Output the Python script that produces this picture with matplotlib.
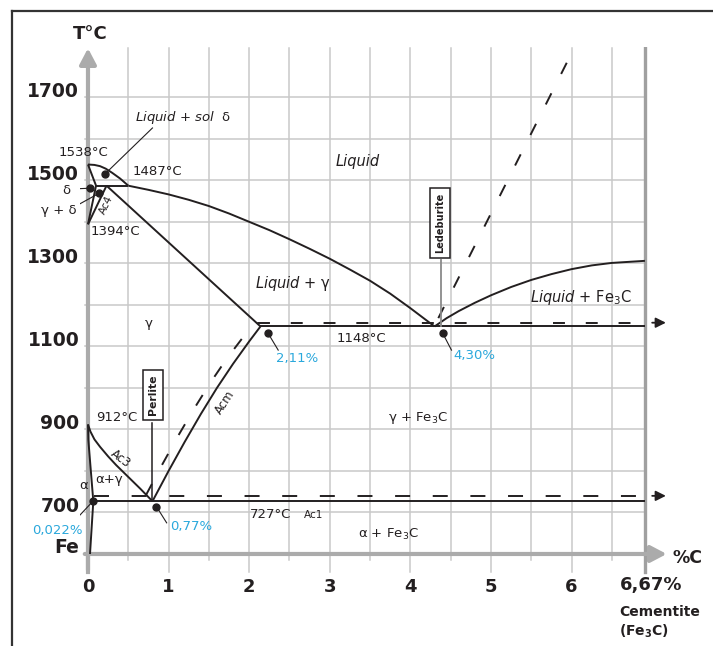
import matplotlib
matplotlib.use('Agg')
import matplotlib.pyplot as plt
from matplotlib.lines import Line2D

plt.rcParams['font.family'] = ['DejaVu Sans']
plt.rcParams['mathtext.fontset'] = 'dejavusans'
plt.rcParams['lines.scale_dashes'] = False

# ---- diagram data: % carbon vs temperature (°C) ----
X_CEM = 6.91   # where the 6.67 % C (Fe3C) line sits; the axis is not to scale past 6.5
T_PERI, T_EUT, T_EUTD = 1487, 1148, 727

delta_liq_c = [0.0, 0.08, 0.15, 0.22, 0.30, 0.40, 0.50]
delta_liq_t = [1538, 1537, 1534, 1528, 1518, 1504, 1487]
delta_sol_c = [0.0, 0.10, 0.0]
delta_sol_t = [1538, 1487, 1394]
gamma_delta_c = [0.23, 0.0]
gamma_delta_t = [1487, 1394]
peri_c = [0.10, 0.50]

liquidus_c = [0.50, 0.75, 1.0, 1.25, 1.5, 1.75, 2.0, 2.25, 2.5, 2.75,
              3.0, 3.25, 3.5, 3.75, 4.0, 4.30]
liquidus_t = [1487, 1477, 1466, 1453, 1438, 1420, 1400, 1380, 1358, 1335,
              1311, 1285, 1258, 1227, 1192, 1148]
solidus_c = [0.23, 2.14]
solidus_t = [1487, 1148]
cem_liq_c = [4.30, 4.45, 4.6, 4.8, 5.0, 5.25, 5.5, 5.75, 6.0, 6.25, 6.5, X_CEM]
cem_liq_t = [1148, 1168, 1185, 1205, 1223, 1243, 1260, 1274, 1286, 1295, 1301, 1306]
cem_dash_c = [5.94, 4.30]
cem_dash_t = [1783, 1150]

acm_c = [0.80, 1.0, 1.2, 1.4, 1.6, 1.8, 2.0, 2.14]
acm_t = [727, 800, 870, 937, 1000, 1058, 1112, 1148]
acm_dash_c = [0.72, 0.92, 1.12, 1.32, 1.52, 1.72, 1.92, 2.11]
acm_dash_t = [742, 815, 885, 951, 1013, 1070, 1121, 1157]
ac3_c = [0.0, 0.03, 0.08, 0.15, 0.25, 0.35, 0.45, 0.55, 0.65, 0.80]
ac3_t = [912, 895, 876, 858, 835, 814, 795, 776, 757, 727]
alpha_c = [0.0, 0.004, 0.066, 0.025]
alpha_t = [912, 875, 727, 600]

eut_c = [2.14, X_CEM]
eutd_c = [0.066, X_CEM]
eut_dash_c, eut_dash_t = [2.11, X_CEM], 1157
eutd_dash_c, eutd_dash_t = [0.08, X_CEM], 740

dot_c = [0.21, 0.03, 0.14, 2.23, 4.40, 0.066, 0.85]
dot_t = [1515, 1481, 1469, 1133, 1132, 728, 714]

x_ticks = [0, 1, 2, 3, 4, 5, 6]
y_ticks = [1700, 1500, 1300, 1100, 900, 700, 600]
y_tick_labels = ['1700', '1500', '1300', '1100', '900', '700', 'Fe']
grid_c = [0.5 * i for i in range(1, 14)]
grid_t = list(range(700, 1800, 100))

INK = '#231f20'
GRID = '#c9c9c9'
AXIS = '#ababab'
CYAN = '#2aa8dc'

fig = plt.figure(figsize=(7.13, 6.46), dpi=100)
ax = fig.add_axes([0.1121, 0.1103, 0.8365, 0.8163])
ax.set_xlim(-0.1, 7.3)
ax.set_ylim(550, 1820)
ax.axis('off')

# outer frame (only top and left edges are inside the picture)
fig.add_artist(Line2D([11.7 / 713, 1.0], [1 - 11 / 646] * 2, color='#333333', lw=1.6))
fig.add_artist(Line2D([11.7 / 713] * 2, [0.0, 1 - 11 / 646], color='#333333', lw=1.6))

# grid
for c in grid_c:
    bottom = 557 if c == int(c) else 586
    ax.plot([c, c], [bottom, 1818], color=GRID, lw=1.1, zorder=0)
for t in grid_t:
    ax.plot([-0.04, X_CEM], [t, t], color=GRID, lw=1.1, zorder=0)
ax.plot([X_CEM, X_CEM], [557, 1818], color='#a0a0a0', lw=2.4, zorder=1)

# axes with arrow heads
head = '-|>,head_length=0.95,head_width=0.5'
ax.annotate('', xy=(0, 1818), xytext=(0, 561),
            arrowprops=dict(arrowstyle=head, color=AXIS, lw=3, mutation_scale=10,
                            shrinkA=0, shrinkB=0), zorder=1)
ax.annotate('', xy=(7.18, 600), xytext=(-0.04, 600),
            arrowprops=dict(arrowstyle=head, color=AXIS, lw=3, mutation_scale=10,
                            shrinkA=0, shrinkB=0), zorder=1)
ax.plot([0, 0], [557, 600], color=AXIS, lw=3, zorder=1)

# phase boundaries
lw = 1.4
for cs, ts in [(delta_liq_c, delta_liq_t), (delta_sol_c, delta_sol_t),
               (gamma_delta_c, gamma_delta_t), (peri_c, [T_PERI, T_PERI]),
               (liquidus_c, liquidus_t), (solidus_c, solidus_t),
               (cem_liq_c, cem_liq_t), (acm_c, acm_t), (ac3_c, ac3_t),
               (alpha_c, alpha_t), (eut_c, [T_EUT, T_EUT]),
               (eutd_c, [T_EUTD, T_EUTD])]:
    ax.plot(cs, ts, color=INK, lw=lw, zorder=3, solid_capstyle='butt',
            solid_joinstyle='round')

ax.plot(cem_dash_c, cem_dash_t, color=INK, lw=lw, dashes=(9, 15.6), zorder=3)
ax.plot(acm_dash_c, acm_dash_t, color=INK, lw=lw, dashes=(9, 15.6), zorder=3)
ax.plot(eut_dash_c, [eut_dash_t] * 2, color=INK, lw=lw, dashes=(8.6, 15), zorder=3)
ax.plot(eutd_dash_c, [eutd_dash_t] * 2, color=INK, lw=lw, dashes=(10.8, 16.3), zorder=3)

small = '-|>,head_length=0.6,head_width=0.3'
for t in [eut_dash_t, eutd_dash_t]:
    ax.annotate('', xy=(7.17, t), xytext=(7.0, t),
                arrowprops=dict(arrowstyle=small, color=INK, lw=1.3, mutation_scale=10,
                                shrinkA=0, shrinkB=0))

ax.plot(dot_c, dot_t, 'o', color=INK, ms=5, zorder=4)

# leader lines
leaders = [((0.21, 1515), (0.80, 1626)), ((0.03, 1481), (-0.20, 1479)),
           ((0.14, 1469), (-0.15, 1438)), ((2.23, 1133), (2.36, 1091)),
           ((4.40, 1132), (4.51, 1091)), ((0.066, 728), (-0.195, 674)),
           ((0.85, 714), (0.976, 675))]
for (c0, t0), (c1, t1) in leaders:
    ax.plot([c0, c1], [t0, t1], color=INK, lw=0.8, zorder=3)
ax.plot([4.38, 4.38], [1150, 1308], color='#8a8a8a', lw=1.3, zorder=3)
ax.plot([0.80, 0.80], [730, 916], color=INK, lw=1.1, zorder=3)

# tick labels
for c in x_ticks:
    ax.text(c, 520, str(c), ha='center', va='center', fontsize=13,
            fontweight='bold', color=INK)
ax.text(X_CEM + 0.08, 526, '6,67%', ha='center', va='center', fontsize=13,
        fontweight='bold', color=INK)
ax.text(7.44, 590, '%C', ha='center', va='center', fontsize=12.5,
        fontweight='bold', color=INK)
ax.text(6.59, 460, 'Cementite', ha='left', va='center', fontsize=10,
        fontweight='bold', color=INK)
ax.text(6.59, 413, r'(Fe$_\mathbf{3}$C)', ha='left', va='center', fontsize=10,
        fontweight='bold', color=INK)
for t, lab in zip(y_ticks, y_tick_labels):
    ax.text(-0.108, t + 15, lab, ha='right', va='center', fontsize=13.5,
            fontweight='bold', color=INK)
ax.text(0.025, 1852, 'T°C', ha='center', va='center', fontsize=13,
        fontweight='bold', color=INK)

# region and point labels
txt = dict(color=INK, fontsize=9.5, va='center')
ax.text(0.58, 1652, r'$\mathit{Liquid}$ + $\mathit{sol}$  δ', ha='left', **txt)
ax.text(-0.062, 1568, '1538°C', ha='center', **txt)
ax.text(0.558, 1520, '1487°C', ha='left', **txt)
ax.text(-0.267, 1476, 'δ', ha='center', **txt)
ax.text(-0.36, 1428, 'γ + δ', ha='center', **txt)
ax.text(0.033, 1376, '1394°C', ha='left', **txt)
ax.text(3.344, 1545, 'Liquid', ha='center', color=INK, fontsize=10.5,
        style='italic', va='center')
ax.text(2.07, 1252, r'$\mathit{Liquid}$ + γ', ha='left', color=INK, fontsize=10.5, va='center')
ax.text(0.748, 1154, 'γ', ha='center', **txt)
ax.text(3.085, 1118, '1148°C', ha='left', **txt)
ax.text(5.48, 1217, r'$\mathit{Liquid}$ + Fe$_3$C', ha='left', color=INK, fontsize=10.5,
        va='center')
ax.text(0.356, 928, '912°C', ha='center', **txt)
ax.text(0.26, 780, 'α+γ', ha='center', **txt)
ax.text(-0.05, 764, 'α', ha='center', **txt)
ax.text(2.01, 696, '727°C', ha='left', **txt)
ax.text(4.09, 927, 'γ + Fe$_3$C', ha='center', **txt)
ax.text(3.726, 648, 'α + Fe$_3$C', ha='center', **txt)
ax.text(0.232, 1441, 'Ac4', ha='center', va='center', rotation=65, fontsize=7.5, color=INK)
ax.text(2.80, 694, 'Ac1', ha='center', va='center', fontsize=7.5, color=INK)
ax.text(0.41, 830, 'Ac3', ha='center', va='center', rotation=-37, fontsize=8.5, color=INK)
ax.text(1.70, 966, 'Acm', ha='center', va='center', rotation=57, fontsize=8.5, color=INK)

cyan = dict(color=CYAN, fontsize=9.5, ha='center', va='center')
ax.text(2.59, 1070, '2,11%', **cyan)
ax.text(4.79, 1077, '4,30%', **cyan)
ax.text(-0.374, 656, '0,022%', **cyan)
ax.text(1.276, 666, '0,77%', **cyan)

box = dict(boxstyle='square,pad=0.5', fc='white', ec=INK, lw=1.1)
ax.text(4.365, 1398, 'Ledeburite', rotation=90, ha='center', va='center',
        fontsize=7, fontweight='bold', color=INK, bbox=box, zorder=5)
box_p = dict(boxstyle='square,pad=0.45', fc='white', ec=INK, lw=1.1)
ax.text(0.806, 983, 'Perlite', rotation=90, ha='center', va='center',
        fontsize=7.8, fontweight='bold', color=INK, bbox=box_p, zorder=5)

fig.savefig('out.png', dpi=100)
